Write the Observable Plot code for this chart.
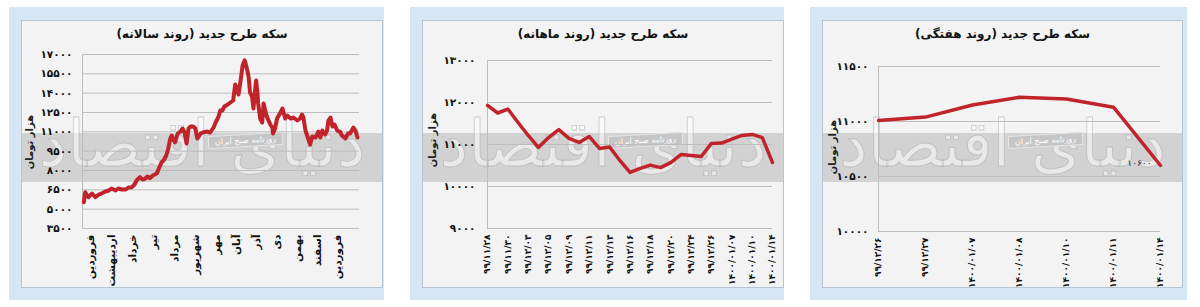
<!DOCTYPE html>
<html><head><meta charset="utf-8">
<script src="https://cdn.jsdelivr.net/npm/d3@7"></script>
<script src="https://cdn.jsdelivr.net/npm/@observablehq/plot@0.6"></script>
<style>
body{margin:0;background:#fff;font-family:"DejaVu Sans",sans-serif;}
#root{position:relative;width:1200px;height:307px;overflow:hidden;}
.outer{position:absolute;background:#d7e6f5;}
.inner{position:absolute;background:#f3f3f3;border:1px solid #b7c4d2;box-sizing:border-box;}
.band{position:absolute;background:#d2d2d2;}
.wm{position:absolute;color:rgba(255,255,255,0.5);font-size:64px;line-height:64px;direction:rtl;text-align:center;white-space:nowrap;-webkit-text-stroke:0.8px rgba(165,165,165,0.55);}
.tag{position:absolute;background:#c6c6c6;border:1px solid #e6e6e6;color:#fff;font-size:8px;line-height:11px;direction:rtl;text-align:center;transform:rotate(-3deg);}
.title{position:absolute;font-weight:bold;font-size:12px;direction:rtl;text-align:center;color:#111;}
.unit{position:absolute;font-weight:bold;font-size:10px;line-height:12px;direction:rtl;text-align:center;color:#222;transform:rotate(-90deg);white-space:nowrap;}
.chart{position:absolute;}
</style></head>
<body><div id="root"></div>
<script>
// ---------- data ----------
const yearTitle = "سکه طرح جدید (روند سالانه)";
const monthTitle = "سکه طرح جدید (روند ماهانه)";
const weekTitle = "سکه طرح جدید (روند هفتگی)";
const unitLabel = "هزار تومان";
const tagText = "روزنامه صبح ایران";
const wmText = "دنیای اقتصاد";

// yearly panel
const yearTicks = [3500, 5000, 6500, 8000, 9500, 11000, 12500, 14000, 15500, 17000];
const yearDomainX = [-12, 398];
const monthNames = ["فروردین","اردیبهشت","خرداد","تیر","مرداد","شهریور","مهر","آبان","آذر","دی","بهمن","اسفند","فروردین"];
const monthStartDays = [0, 31, 62, 93, 124, 155, 186, 216, 246, 276, 306, 336, 365];
const yearDays = [-10,-8,-6,-3,2,7,12,16,22,27,31,37,41,46,52,56,61,65,68,73,77,81,84,88,92,98,101,105,108,112,115,118,120,123,125,129,133,136,139,142,145,148,152,155,158,163,167,173,177,182,185,189,192,195,198,203,207,211,214,217,219,222,225,228,229,232,234,236,239,241,244,245,247,248,251,254,256,259,262,266,269,270,273,276,281,284,288,291,296,300,306,310,313,315,318,321,325,328,333,337,340,343,347,350,352,355,358,361,365,369,372,377,381,384,389,392,395];
const yearPrices = [5540,6316,6137,5928,6215,5928,6137,6215,6370,6448,6603,6448,6603,6525,6525,6681,6704,6913,7224,7480,7301,7379,7534,7402,7611,7767,8155,8644,8775,9163,9707,10482,10715,10327,10195,10870,11025,11258,10971,10094,11258,11414,11414,11258,10482,10870,10971,11025,10948,11336,11724,12135,12655,12655,12965,13120,13276,13431,14672,14207,13896,14983,16146,16550,16379,15759,15215,14052,13741,12810,14517,14983,13974,13198,12034,11724,13198,12500,12034,11569,11336,10870,11258,12034,12500,12810,12034,12267,12034,12112,11879,12034,12345,12112,11103,10638,10017,10638,10560,11025,10560,11103,10793,11103,11879,12112,11414,11569,11103,11025,10715,10482,10870,10870,11336,11103,10560];

// monthly panel
const monthTicks = [9000, 10000, 11000, 12000, 13000];
const dayLabels = ["۹۹/۱۱/۲۸","۹۹/۱۱/۳۰","۹۹/۱۲/۰۳","۹۹/۱۲/۰۵","۹۹/۱۲/۰۹","۹۹/۱۲/۱۱","۹۹/۱۲/۱۳","۹۹/۱۲/۱۶","۹۹/۱۲/۱۸","۹۹/۱۲/۲۰","۹۹/۱۲/۲۴","۹۹/۱۲/۲۶","۱۴۰۰/۰۱/۰۷","۱۴۰۰/۰۱/۱۰","۱۴۰۰/۰۱/۱۴"];
const dayPrices = [11930,11750,11845,11525,11215,10930,11165,11355,11145,11050,11190,10905,10940,10620,10335,10430,10510,10450,10570,10760,10740,10715,11025,11035,11130,11215,11240,11165,10570];

// weekly panel
const weekTicks = [10000, 10500, 11000, 11500];
const weekLabels = ["۹۹/۱۲/۲۶","۹۹/۱۲/۲۷","۱۴۰۰/۰۱/۰۷","۱۴۰۰/۰۱/۰۸","۱۴۰۰/۰۱/۱۰","۱۴۰۰/۰۱/۱۱","۱۴۰۰/۰۱/۱۴"];
const weekPrices = [11010, 11040, 11150, 11220, 11205, 11130, 10600];

// ---------- helpers ----------
const fa = v => String(v).replace(/\d/g, d => "۰۱۲۳۴۵۶۷۸۹"[d]);
const RED = "#c1232b";
const GRID = "#bdbdbd";
const root = document.getElementById("root");
function box(cls, l, t, w, h, txt) {
  const d = document.createElement("div");
  d.className = cls;
  Object.assign(d.style, {left: l + "px", top: t + "px", width: w + "px", height: h + "px"});
  if (txt != null) d.textContent = txt;
  root.appendChild(d);
  return d;
}
function panel(o) {
  box("outer", o.ox, 7, o.ow, 293);
  box("inner", o.ix, 20, o.iw, 268);
  box("band", o.ix + 1, 133, o.iw - 2, 49);
  box("wm", o.ix, 112, o.iw, 64, wmText);
  box("tag", o.tx, 134, 73, 11, tagText);
  box("title", o.ix, 27, o.iw, 16, o.title);
  // rotated unit label centred at (ux, uy)
  box("unit", o.ux - 40, o.uy - 6, 80, 12, unitLabel);
  const c = box("chart", o.ix, 45, o.iw, 242);
  const xg = o.plot.querySelector('g[aria-label^="x-axis"]');
  if (xg && o.xFont) { xg.setAttribute("font-size", o.xFont); xg.querySelectorAll("text").forEach(t => t.style.fontSize = o.xFont + "px"); }
  c.appendChild(o.plot);
}
const baseStyle = {background: "transparent", fontFamily: "DejaVu Sans, sans-serif", fontSize: "10.5px", fontWeight: "bold", color: "#111", overflow: "visible"};

// ---------- panel 1 ----------
const yearData = yearDays.map((d, i) => ({d, p: yearPrices[i]}));
const p1 = Plot.plot({
  width: 361, height: 242, marginLeft: 61, marginRight: 23, marginTop: 9, marginBottom: 59,
  style: baseStyle,
  x: {domain: yearDomainX, ticks: monthStartDays, tickFormat: (d) => monthNames[monthStartDays.indexOf(d)], tickRotate: -90, tickSize: 0, tickPadding: 6, label: null},
  y: {domain: [yearTicks[0], yearTicks[yearTicks.length - 1]], ticks: yearTicks, tickFormat: fa, tickSize: 0, tickPadding: 10, label: null},
  marks: [
    Plot.ruleY(yearTicks, {stroke: GRID, strokeWidth: 1}),
    Plot.ruleX([yearDomainX[0]], {stroke: GRID}),
    Plot.line(yearData, {x: "d", y: "p", stroke: RED, strokeWidth: 4, strokeLinejoin: "round"})
  ]
});
panel({ox: 9, ow: 375, ix: 21, iw: 362, tx: 208, ux: 30, uy: 142, title: yearTitle, plot: p1});

// ---------- panel 2 ----------
const dayData = dayPrices.map((p, i) => ({i, p}));
const dayTickIdx = dayLabels.map((_, k) => k * 2);
const p2 = Plot.plot({
  width: 361, height: 242, marginLeft: 65, marginRight: 11, marginTop: 15, marginBottom: 59,
  style: baseStyle,
  x: {domain: [0, dayPrices.length - 1], ticks: dayTickIdx, tickFormat: i => dayLabels[i / 2], tickRotate: -90, tickSize: 0, tickPadding: 6, label: null},
  y: {domain: [monthTicks[0], monthTicks[monthTicks.length - 1]], ticks: monthTicks, tickFormat: fa, tickSize: 0, tickPadding: 12, label: null},
  marks: [
    Plot.ruleY(monthTicks, {stroke: GRID}),
    Plot.ruleX([0], {stroke: GRID}),
    Plot.line(dayData, {x: "i", y: "p", stroke: RED, strokeWidth: 3.5, strokeLinejoin: "round"})
  ]
});
panel({ox: 410, ow: 374, ix: 422, iw: 362, tx: 608, ux: 433, uy: 140, xFont: 9, title: monthTitle, plot: p2});

// ---------- panel 3 ----------
const weekData = weekPrices.map((p, i) => ({i, p}));
const last = weekData.slice(-1);
const p3 = Plot.plot({
  width: 360, height: 242, marginLeft: 56, marginRight: 22, marginTop: 21, marginBottom: 56,
  style: baseStyle,
  x: {domain: [0, weekPrices.length - 1], ticks: weekLabels.map((_, i) => i), tickFormat: i => weekLabels[i], tickRotate: -90, tickSize: 0, tickPadding: 6, label: null},
  y: {domain: [weekTicks[0], weekTicks[weekTicks.length - 1]], ticks: weekTicks, tickFormat: fa, tickSize: 0, tickPadding: 10, label: null},
  marks: [
    Plot.ruleY(weekTicks, {stroke: GRID}),
    Plot.ruleX([0], {stroke: GRID}),
    Plot.line(weekData, {x: "i", y: "p", stroke: RED, strokeWidth: 3.5, strokeLinejoin: "round"}),
    Plot.text(last, {x: "i", y: "p", text: d => fa(d.p), textAnchor: "end", dx: -9, dy: -2, fontSize: 9, fontWeight: "normal", fill: "#222"})
  ]
});
panel({ox: 810, ow: 377, ix: 822, iw: 361, tx: 1008, ux: 833, uy: 147, xFont: 9, title: weekTitle, plot: p3});
</script>
</body></html>
